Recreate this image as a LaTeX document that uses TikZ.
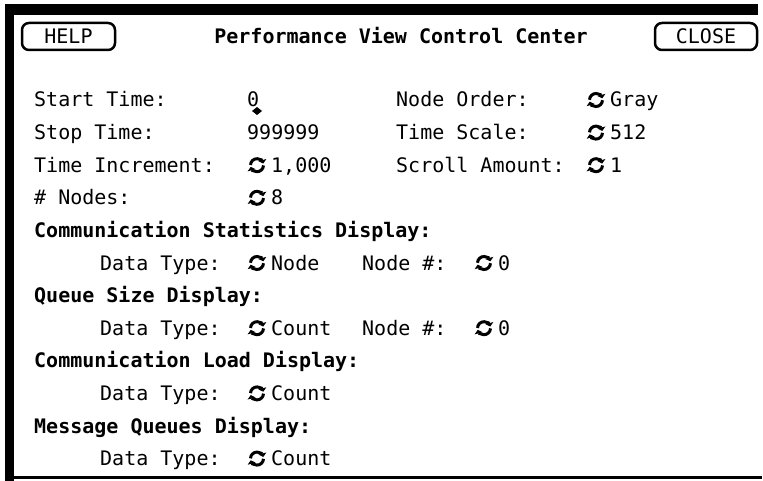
\documentclass[tikz,border=0pt]{standalone}
\usepackage{fontspec}
\setmainfont{DejaVu Sans Mono}
\usetikzlibrary{arrows.meta}
\tikzset{
  lbl/.style={anchor=base west, inner sep=0pt, font=\fontsize{20}{24}\selectfont},
  hdr/.style={anchor=base west, inner sep=0pt, font=\fontsize{20}{24}\selectfont\bfseries},
  btnbox/.style={draw, line width=2.5pt, rounded corners=7pt, inner sep=0pt},
  cyc/.pic={
    \draw[line width=3pt, -{Triangle[length=3.5pt,width=8pt]}] (182:6.5) arc (182:345:6.5);
    \draw[line width=3pt, -{Triangle[length=3.5pt,width=8pt]}] (2:6.5) arc (2:165:6.5);
  },
}
\begin{document}
\begin{tikzpicture}[x=1pt,y=-1pt]
\useasboundingbox (0,0) rectangle (763,481);
\fill[white] (0,0) rectangle (763,481);
% frame
\fill[black] (5,4) rectangle (758,15);
\fill[black] (5,4) rectangle (14,481);
\fill[black] (5,476) rectangle (762,479);
% buttons and title
\node[btnbox, minimum width=93pt, minimum height=27pt] (helpbox) at (68.5,36.5) {};
\node[anchor=base, inner sep=0pt, font=\fontsize{20}{24}\selectfont] (help) at (68.5,44) {HELP};
\node[btnbox, minimum width=102pt, minimum height=27pt] (closebox) at (706,36.5) {};
\node[anchor=base, inner sep=0pt, font=\fontsize{20}{24}\selectfont] (close) at (706,44) {CLOSE};
\node[anchor=base, inner sep=0pt, font=\fontsize{20}{24}\selectfont\bfseries] (title) at (401,44) {Performance View Control Center};
% row 0
\node[lbl] (l0) at (34,107) {Start Time:};
\node[lbl] (v0) at (247,107) {0};
\fill (252,111) -- (257,107) -- (262,111) -- (257,115) -- cycle;
\node[lbl] (m0) at (396,107) {Node Order:};
\pic at (596,100) {cyc};
\node[lbl] (w0) at (610,107) {Gray};
% row 1
\node[lbl] (l1) at (34,139.6) {Stop Time:};
\node[lbl] (v1) at (247,139.6) {999999};
\node[lbl] (m1) at (396,139.6) {Time Scale:};
\pic at (596,132.6) {cyc};
\node[lbl] (w1) at (610,139.6) {512};
% row 2
\node[lbl] (l2) at (34,172.2) {Time Increment:};
\pic at (257,165.2) {cyc};
\node[lbl] (v2) at (271,172.2) {1,000};
\node[lbl] (m2) at (396,172.2) {Scroll Amount:};
\pic at (596,165.2) {cyc};
\node[lbl] (w2) at (610,172.2) {1};
% row 3
\node[lbl] (l3) at (34,204.8) {\# Nodes:};
\pic at (257,197.8) {cyc};
\node[lbl] (v3) at (271,204.8) {8};
% row 4
\node[hdr] (h4) at (34,237.4) {Communication Statistics Display:};
% row 5
\node[lbl] (l5) at (100,270) {Data Type:};
\pic at (257,263) {cyc};
\node[lbl] (v5) at (271,270) {Node};
\node[lbl] (m5) at (362,270) {Node \#:};
\pic at (484,263) {cyc};
\node[lbl] (w5) at (498,270) {0};
% row 6
\node[hdr] (h6) at (34,302.6) {Queue Size Display:};
% row 7
\node[lbl] (l7) at (100,335.2) {Data Type:};
\pic at (257,328.2) {cyc};
\node[lbl] (v7) at (271,335.2) {Count};
\node[lbl] (m7) at (362,335.2) {Node \#:};
\pic at (484,328.2) {cyc};
\node[lbl] (w7) at (498,335.2) {0};
% row 8
\node[hdr] (h8) at (34,367.8) {Communication Load Display:};
% row 9
\node[lbl] (l9) at (100,400.4) {Data Type:};
\pic at (257,393.4) {cyc};
\node[lbl] (v9) at (271,400.4) {Count};
% row 10
\node[hdr] (h10) at (34,433) {Message Queues Display:};
% row 11
\node[lbl] (l11) at (100,465.6) {Data Type:};
\pic at (257,458.6) {cyc};
\node[lbl] (v11) at (271,465.6) {Count};
\end{tikzpicture}
\end{document}
